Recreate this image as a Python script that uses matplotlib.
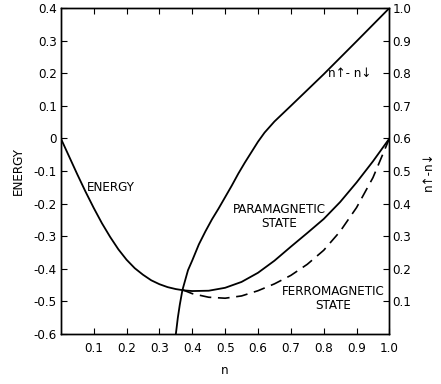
import matplotlib
matplotlib.use("Agg")
import matplotlib.pyplot as plt

# Data
n_para = [0.0, 0.025, 0.05, 0.075, 0.1, 0.125, 0.15, 0.175, 0.2, 0.225, 0.25,
          0.275, 0.3, 0.325, 0.35, 0.375, 0.4, 0.45, 0.5, 0.55, 0.6, 0.65,
          0.7, 0.75, 0.8, 0.85, 0.9, 0.95, 1.0]
e_para = [0.0, -0.055, -0.11, -0.163, -0.213, -0.26, -0.302, -0.34, -0.372,
          -0.398, -0.418, -0.435, -0.447, -0.456, -0.462, -0.466, -0.468,
          -0.467, -0.458, -0.44, -0.412, -0.375, -0.332, -0.29, -0.247,
          -0.195, -0.135, -0.07, 0.0]

n_ferro = [0.37, 0.4, 0.45, 0.5, 0.55, 0.6, 0.65, 0.7, 0.75, 0.8, 0.85, 0.9,
           0.95, 1.0]
e_ferro = [-0.464, -0.476, -0.487, -0.49, -0.483, -0.467, -0.446, -0.42,
           -0.386, -0.343, -0.285, -0.212, -0.12, 0.0]

n_mag = [0.35, 0.356, 0.362, 0.37, 0.387, 0.4, 0.42, 0.44, 0.46, 0.48, 0.5,
         0.52, 0.54, 0.56, 0.58, 0.6, 0.62, 0.65, 0.7, 0.8, 0.9, 1.0]
m_mag = [0.0, 0.05, 0.09, 0.135, 0.196, 0.226, 0.275, 0.315, 0.352, 0.385,
         0.42, 0.455, 0.492, 0.526, 0.558, 0.59, 0.618, 0.652, 0.7, 0.797,
         0.898, 1.0]

x_ticks = [0.1, 0.2, 0.3, 0.4, 0.5, 0.6, 0.7, 0.8, 0.9, 1.0]
x_labels = ["0.1", "0.2", "0.3", "0.4", "0.5", "0.6", "0.7", "0.8", "0.9", "1.0"]
e_ticks = [0.4, 0.3, 0.2, 0.1, 0.0, -0.1, -0.2, -0.3, -0.4, -0.5, -0.6]
e_labels = ["0.4", "0.3", "0.2", "0.1", "0", "-0.1", "-0.2", "-0.3", "-0.4",
            "-0.5", "-0.6"]
m_ticks = [0.1, 0.2, 0.3, 0.4, 0.5, 0.6, 0.7, 0.8, 0.9, 1.0]
m_labels = ["0.1", "0.2", "0.3", "0.4", "0.5", "0.6", "0.7", "0.8", "0.9", "1.0"]

FONT = dict(family="DejaVu Sans", stretch="condensed")
FS = 9.5

fig = plt.figure(figsize=(4.41, 3.84), dpi=100)
ax = fig.add_axes([0.138, 0.130, 0.745, 0.849])
ax2 = ax.twinx()

ax.plot(n_para, e_para, color="black", lw=1.3)
ax.plot(n_ferro, e_ferro, color="black", lw=1.2, dashes=(7, 4))
ax2.plot(n_mag, m_mag, color="black", lw=1.3)

ax.set_xlim(0, 1.0)
ax.set_ylim(-0.6, 0.4)
ax2.set_ylim(0, 1.0)

ax.set_xticks(x_ticks)
ax.set_xticklabels(x_labels, fontsize=FS, **FONT)
ax.set_yticks(e_ticks)
ax.set_yticklabels(e_labels, fontsize=FS, **FONT)
ax2.set_yticks(m_ticks)
ax2.set_yticklabels(m_labels, fontsize=FS, **FONT)

ax.tick_params(axis="x", direction="in", length=4, top=True, pad=6)
ax.tick_params(axis="y", direction="in", length=4, pad=3)
ax2.tick_params(axis="y", direction="in", length=4, pad=2)

for a in (ax, ax2):
    for s in a.spines.values():
        s.set_linewidth(1.0)

ax.set_xlabel("n", fontsize=FS, labelpad=6, **FONT)
ax.set_ylabel("ENERGY", fontsize=FS, labelpad=6, **FONT)
ax2.set_ylabel("n\u2191-n\u2193", fontsize=FS, labelpad=8, **FONT)

ax.text(0.08, -0.15, "ENERGY", fontsize=FS, ha="left", va="center", **FONT)
ax.text(0.665, -0.24, "PARAMAGNETIC\nSTATE", fontsize=FS, ha="center",
        va="center", linespacing=1.1, **FONT)
ax.text(0.83, -0.49, "FERROMAGNETIC\nSTATE", fontsize=FS, ha="center",
        va="center", linespacing=1.1, **FONT)
ax.text(0.88, 0.2, "n\u2191- n\u2193", fontsize=FS, ha="center", va="center",
        **FONT)

fig.savefig("out.png", dpi=100)
